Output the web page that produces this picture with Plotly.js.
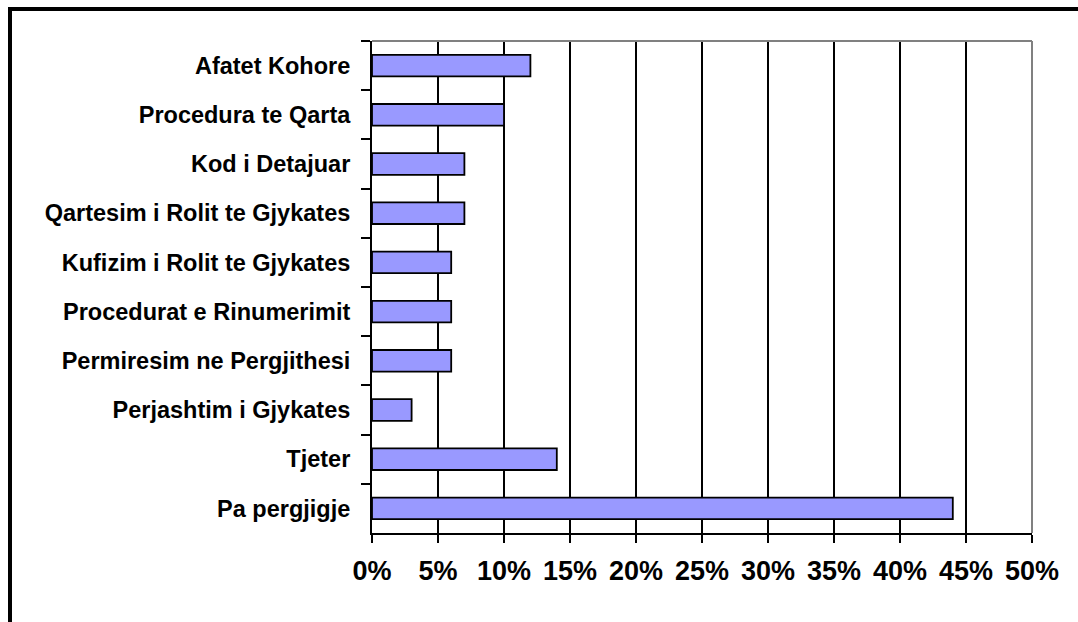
<!DOCTYPE html>
<html>
<head>
<meta charset="utf-8">
<script src="https://cdn.plot.ly/plotly-3.0.1.min.js"></script>
<style>
  html, body { margin: 0; padding: 0; background: #fff; }
  #chart { width: 1078px; height: 622px; }
</style>
</head>
<body>
<div id="chart"></div>
<script>
const categories = [
  "Afatet Kohore",
  "Procedura te Qarta",
  "Kod i Detajuar",
  "Qartesim i Rolit te Gjykates",
  "Kufizim i Rolit te Gjykates",
  "Procedurat e Rinumerimit",
  "Permiresim ne Pergjithesi",
  "Perjashtim i Gjykates",
  "Tjeter",
  "Pa pergjigje"
];
const percentValues = [12, 10, 7, 7, 6, 6, 6, 3, 14, 44];
const xTickValues = [0, 5, 10, 15, 20, 25, 30, 35, 40, 45, 50];
const xTickLabels = ["0%", "5%", "10%", "15%", "20%", "25%", "30%", "35%", "40%", "45%", "50%"];

const trace = {
  type: "bar",
  orientation: "h",
  x: percentValues,
  y: categories,
  marker: { color: "#9999FF", line: { color: "#000000", width: 1.8 } },
  hoverinfo: "x+y"
};

const W = 1078, H = 622;
const L = 372, R = 1032, T = 41, B = 533;
function px2x(p) { return (p - L) / (R - L); }
function py2y(p) { return (B - p) / (B - T); }

const layout = {
  width: W, height: H,
  margin: { l: L, r: W - R, t: T, b: H - B, pad: 0 },
  paper_bgcolor: "#ffffff",
  plot_bgcolor: "#ffffff",
  showlegend: false,
  bargap: 0.56,
  font: { family: "Liberation Sans, Arial, sans-serif", color: "#000000" },
  xaxis: {
    range: [0, 50],
    tickmode: "array",
    tickvals: xTickValues,
    ticktext: xTickLabels,
    ticks: "outside",
    ticklen: 8,
    tickwidth: 2,
    tickcolor: "#000000",
    showgrid: true,
    gridcolor: "#000000",
    gridwidth: 2,
    showline: true,
    linecolor: "#000000",
    linewidth: 2,
    zeroline: false,
    ticklabelstandoff: 5,
    tickfont: { size: 27, family: "Liberation Sans, Arial, sans-serif", weight: "bold", color: "#000000" },
    fixedrange: true
  },
  yaxis: {
    type: "category",
    autorange: "reversed",
    ticks: "outside",
    tickson: "boundaries",
    ticklen: 9,
    tickwidth: 2,
    tickcolor: "#000000",
    showgrid: false,
    showline: true,
    linecolor: "#000000",
    linewidth: 2,
    zeroline: false,
    ticklabelstandoff: 15,
    tickfont: { size: 23.5, family: "Liberation Sans, Arial, sans-serif", weight: "bold", color: "#000000" },
    fixedrange: true
  },
  shapes: [
    { type: "line", xref: "paper", yref: "paper", x0: 0, x1: 1, y0: 1, y1: 1,
      line: { color: "#808080", width: 2 } },
    { type: "line", xref: "paper", yref: "paper", x0: 1, x1: 1, y0: 0, y1: 1,
      line: { color: "#808080", width: 2 } },
    { type: "rect", xref: "paper", yref: "paper",
      x0: px2x(10), x1: px2x(1095), y0: py2y(650), y1: py2y(9),
      line: { color: "#000000", width: 4 }, fillcolor: "rgba(0,0,0,0)", layer: "above" }
  ]
};

Plotly.newPlot("chart", [trace], layout, { displayModeBar: false, staticPlot: true });
</script>
</body>
</html>
